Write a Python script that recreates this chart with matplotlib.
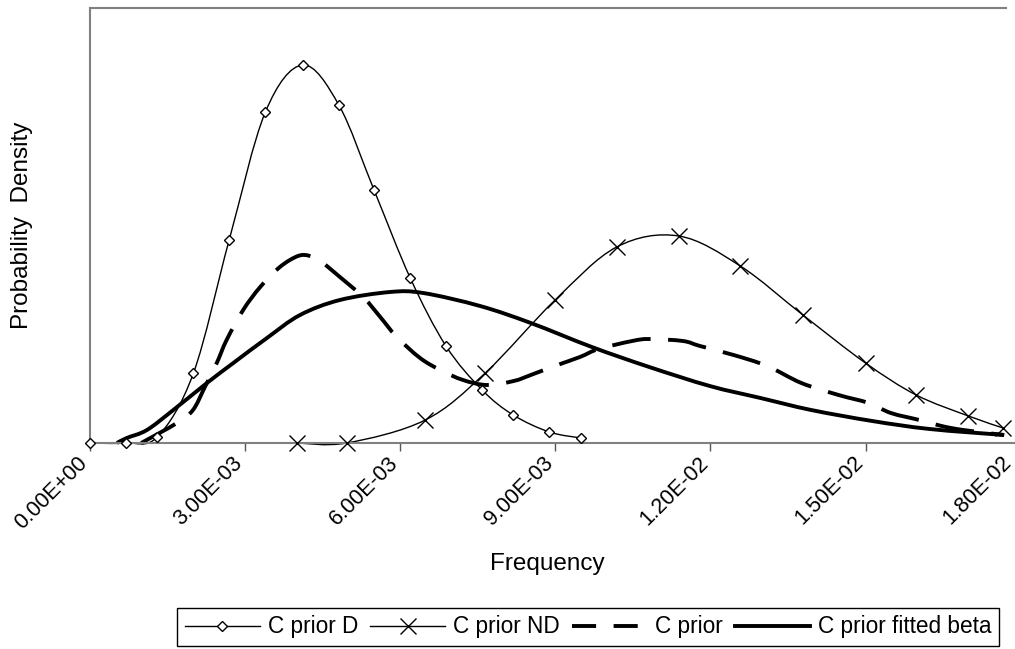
import numpy as np
import matplotlib
matplotlib.use('Agg')
import matplotlib.pyplot as plt
from matplotlib.path import Path
from matplotlib.patches import PathPatch
from matplotlib.lines import Line2D
from matplotlib.transforms import ScaledTranslation

plt.rcParams['font.family'] = ['Liberation Sans', 'DejaVu Sans']

# frequency values in units of 1e-3, densities in the chart's own (unlabelled) units
d_x = [0.0, 0.70, 1.31, 2.01, 2.70, 3.40, 4.12, 4.82, 5.50, 6.20, 6.89, 7.59, 8.19, 8.89, 9.50]
d_y = [0, 0, 6, 70, 203, 331, 378, 338, 253, 165, 97, 53, 28, 11, 5]

nd_x = [4.01, 4.97, 6.49, 7.65, 9.00, 10.19, 11.39, 12.58, 13.79, 15.00, 15.98, 16.99, 17.66]
nd_y = [0, 0, 23, 70, 143, 196, 207, 177, 128, 80, 48, 27, 15]

prior_x = [1.00, 1.69, 2.00, 2.23, 2.46, 2.65, 2.97, 3.30, 3.68, 4.03, 4.26, 4.51, 4.84,
           5.29, 5.62, 5.94, 6.39, 6.78, 7.22, 7.68, 8.20, 8.53, 8.99, 9.48, 9.84, 10.49,
           10.82, 11.47, 11.80, 12.45, 13.10, 13.76, 14.48, 15.06, 15.49, 16.04, 16.47,
           16.89, 17.68]
prior_y = [0, 20, 33, 56, 80, 103, 133, 156, 176, 187, 187, 180, 166,
           146, 126, 106, 85, 73, 63, 58, 62, 68, 77, 86, 94, 102,
           104, 102, 97, 88, 77, 60, 48, 40, 30, 23, 17,
           13, 8]

beta_x = [0.53, 0.72, 1.11, 1.62, 2.27, 2.78, 3.43, 4.07, 4.84, 5.81, 6.45, 7.55, 8.53,
          9.71, 10.82, 11.99, 12.97, 13.95, 15.13, 16.24, 17.68]
beta_y = [0, 5, 13, 33, 60, 80, 105, 128, 143, 151, 150, 137, 120,
          96, 76, 57, 45, 33, 22, 14, 8]

xticks = [0.0, 0.003, 0.006, 0.009, 0.012, 0.015, 0.018]


def smooth_path(x, y):
    # Excel-style smoothed line: cubic Bezier segments through the points
    p = np.column_stack([np.asarray(x) * 1e-3, y]).astype(float)
    ext = np.vstack([p[0], p, p[-1]])
    verts = [p[0]]
    codes = [Path.MOVETO]
    for i in range(len(p) - 1):
        p0, p1, p2, p3 = ext[i], ext[i + 1], ext[i + 2], ext[i + 3]
        verts += [p1 + (p2 - p0) / 6, p2 - (p3 - p1) / 6, p2]
        codes += [Path.CURVE4] * 3
    return Path(verts, codes)


fig = plt.figure(figsize=(10.15, 6.49), dpi=100)
ax = fig.add_axes([89.5 / 1015, 206 / 649, 931.2 / 1015, 435 / 649])

ax.add_patch(PathPatch(smooth_path(beta_x, beta_y), fill=False, color='black',
                       lw=2.8, clip_on=False, capstyle='butt'))
ax.add_patch(PathPatch(smooth_path(prior_x, prior_y), fill=False, color='black',
                       lw=2.8, ls=(0, (10, 4.5)), clip_on=False, capstyle='butt'))
ax.add_patch(PathPatch(smooth_path(d_x, d_y), fill=False, color='black', lw=1.0, clip_on=False))
ax.add_patch(PathPatch(smooth_path(nd_x, nd_y), fill=False, color='black', lw=1.0, clip_on=False))

ax.plot(np.array(d_x) * 1e-3, d_y, ls='none', marker='D', ms=5, mfc='white',
        mec='black', mew=1.0, clip_on=False, zorder=3)
ax.plot(np.array(nd_x) * 1e-3, nd_y, ls='none', marker='x', ms=12, mec='black',
        mew=1.0, clip_on=False, zorder=3)

ax.set_xlim(0, 0.018)
ax.set_ylim(0, 435)
ax.set_yticks([])
ax.set_xticks(xticks)
ax.set_xticklabels(['%.2E' % v for v in xticks], rotation=45, ha='right',
                   va='center', rotation_mode='anchor', fontsize=15.5)
ax.tick_params(axis='x', direction='out', length=6, width=1, color='#555555', pad=6)

# nudge labels left a little; the last one a bit more so it stays inside the picture
tls = ax.get_xticklabels()
for i, t in enumerate(tls):
    dx = -5 if i < len(tls) - 1 else -12
    t.set_transform(t.get_transform() + ScaledTranslation(dx / 100, 0, fig.dpi_scale_trans))

for side in ['left', 'top', 'bottom']:
    ax.spines[side].set_color('#808080')
    ax.spines[side].set_linewidth(1.5)
ax.spines['right'].set_visible(False)
ax.spines['top'].set_bounds(0, 0.01772)

fig.text(22 / 1015, 1 - 225.5 / 649, 'Probability  Density', rotation=90,
         ha='center', va='center', fontsize=17.5)
fig.text(547 / 1015, 1 - 564 / 649, 'Frequency', ha='center', va='center', fontsize=17.5)

handles = [
    Line2D([], [], color='black', lw=1.0, marker='D', ms=5, mfc='white', mew=1.0),
    Line2D([], [], color='black', lw=1.0, marker='x', ms=12, mew=1.0),
    Line2D([], [], color='black', lw=2.8, ls=(0, (6.2, 4.5))),
    Line2D([], [], color='black', lw=2.8),
]
labels = ['C prior D', 'C prior ND', 'C prior', 'C prior fitted beta']
leg = fig.legend(handles, labels, loc='center', bbox_to_anchor=(588 / 1015, 1 - 627 / 649),
                 ncol=4, fontsize=16.3, frameon=True, fancybox=False, framealpha=1,
                 edgecolor='black', borderpad=0.35, handlelength=3.3, handletextpad=0.35,
                 columnspacing=0.55, borderaxespad=0)
leg.get_frame().set_linewidth(1.0)

fig.savefig('out.png', dpi=100)
